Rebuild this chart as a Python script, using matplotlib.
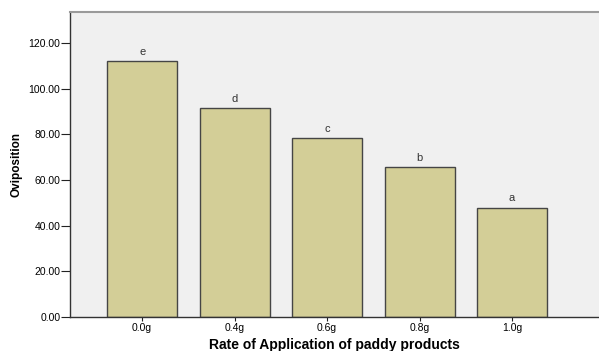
import matplotlib.pyplot as plt
import numpy as np

rates = ['0.0g', '0.4g', '0.6g', '0.8g', '1.0g']
oviposition = [111.9, 91.3, 78.3, 65.7, 47.9]
groups = ['e', 'd', 'c', 'b', 'a']

plt.rcParams['font.family'] = ['Liberation Sans', 'DejaVu Sans']

fig = plt.figure(figsize=(5.99, 3.51), dpi=100)
ax = fig.add_axes([0.1169, 0.0963, 0.8831, 0.8704])
ax.set_facecolor('#f0f0f0')

x = np.arange(len(rates))
bars = ax.bar(x, oviposition, width=0.757, color='#d3ce97',
              edgecolor='#454545', linewidth=1.0, zorder=2)

# group letters above each bar
for bar, g in zip(bars, groups):
    ax.annotate(g, (bar.get_x() + bar.get_width() / 2, bar.get_height()),
                xytext=(0, 3), textcoords='offset points',
                ha='center', va='bottom', fontsize=8, color='#333333')

ax.set_xlim(-0.78, 4.94)
ax.set_ylim(0, 133.6)
ax.set_xticks(x)
ax.set_xticklabels(rates, fontsize=7.5)
ax.set_yticks(np.arange(0, 121, 20))
ax.set_yticklabels([f'{v:.2f}' for v in np.arange(0, 121, 20)], fontsize=7.5)
ax.tick_params(axis='x', length=3, width=0.8, color='#222222', pad=1)
ax.tick_params(axis='y', length=6.5, width=0.8, color='#222222', pad=0.5)

for side in ['left', 'bottom']:
    ax.spines[side].set_color('#333333')
    ax.spines[side].set_linewidth(1.0)
ax.spines['top'].set_color('#9a9a9a')
ax.spines['top'].set_linewidth(1.5)
ax.spines['right'].set_visible(False)

ax.set_xlabel('Rate of Application of paddy products', fontsize=10,
              fontweight='bold', labelpad=4)
ax.set_ylabel('Oviposition', fontsize=8.5, fontweight='bold', labelpad=4)

fig.savefig('out.png', dpi=100)
